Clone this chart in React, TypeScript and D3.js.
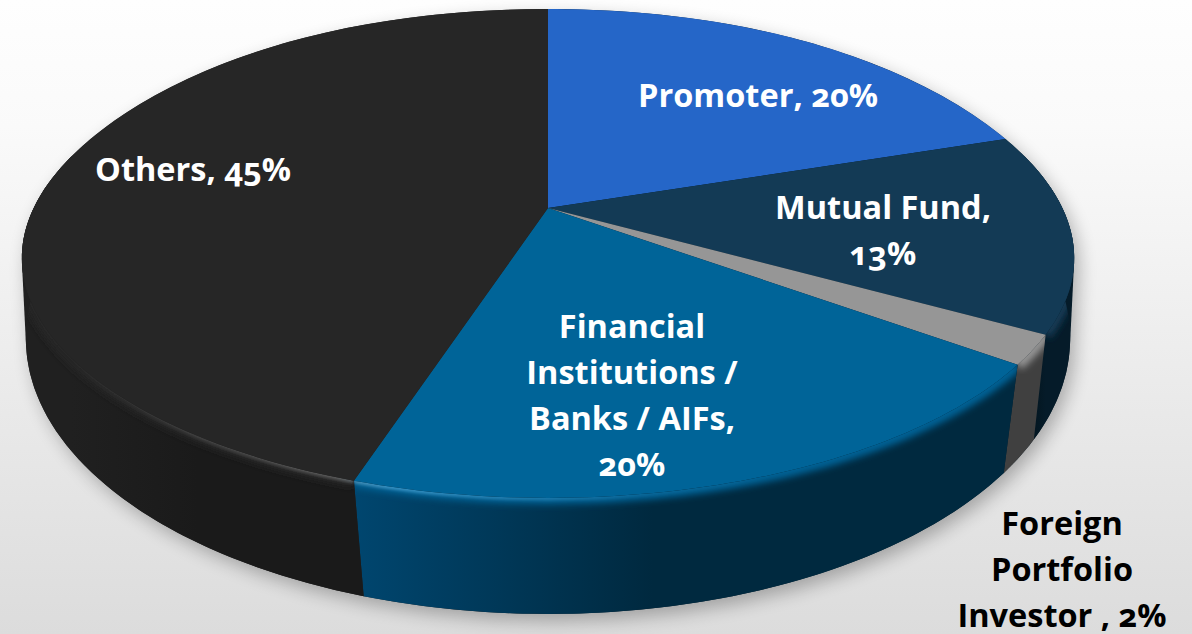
import React from "react";
import * as d3 from "d3";

const categories = ["Promoter", "Mutual Fund", "Foreign Portfolio Investor", "Financial Institutions / Banks / AIFs", "Others"];
const shareValues = [19.5, 13.5, 2, 20, 45];
const labelLines = [
  ["Promoter, 20%"],
  ["Mutual Fund,", "13%"],
  ["Foreign", "Portfolio", "Investor , 2%"],
  ["Financial", "Institutions /", "Banks / AIFs,", "20%"],
  ["Others, 45%"],
];
const topColors = ["#2566c8", "#133a55", "#969696", "#006498", "#262626"];
const wallStart = ["#051d2d", "#051b29", "#404040", "#00466f", "#202020"];
const wallEnd = ["#051d2d", "#041722", "#404040", "#00293f", "#1a1a1a"];
const textColors = ["#fff", "#fff", "#000", "#fff", "#fff"];
const labelAnchors: [number, number][] = [
  [758, 107],
  [883, 219],
  [1062, 535],
  [632, 338],
  [193, 181],
];

const W = 1192, H = 634, CX = 548;
const TOP = { y0: 208, S: 236, R: 517, k: 0.186, egg: 6 };
const BOT = { y0: 300, S: 270, R: 517, k: 0.14, egg: 0 };
const VIS0 = (75 * Math.PI) / 180, VIS1 = (285 * Math.PI) / 180;

type Plane = typeof TOP;
const proj = (p: Plane, a: number): [number, number] => {
  const X = Math.sin(a), Z = Math.cos(a), w = 1 + p.k * Z;
  return [CX + (p.R * X) / w, p.y0 - (p.S * Z) / w + p.egg * X * X * X * X * (1 + Z)];
};
const samples = (a0: number, a1: number) => d3.range(0, 61).map((i) => a0 + ((a1 - a0) * i) / 60);
const line = d3.line<[number, number]>().x((d) => d[0]).y((d) => d[1]);

const arcs = d3.pie<number>().sort(null).value((d) => d)(shareValues);

const hull = (a0: number, a1: number) => {
  const pts = samples(a0, a1).flatMap((a) => [proj(TOP, a), proj(BOT, a)]);
  return line(d3.polygonHull(pts) as [number, number][]) + "Z";
};

export default function App() {
  const all = samples(0, Math.PI * 2);
  return (
    <svg width={W} height={H} viewBox={`0 0 ${W} ${H}`}
      style={{ position: "fixed", left: 0, top: 0, display: "block" }}>
      <defs>
        <linearGradient id="bg" x1="0" y1="0" x2="0" y2="1">
          <stop offset="0" stopColor="#fefefe" />
          <stop offset="0.2" stopColor="#fafafa" />
          <stop offset="1" stopColor="#dcdcdc" />
        </linearGradient>
        <filter id="sh" x="-10%" y="-10%" width="120%" height="120%"><feGaussianBlur stdDeviation="9" /></filter>
        <filter id="rim" x="-10%" y="-30%" width="120%" height="160%"><feGaussianBlur stdDeviation="3.5" /></filter>
        <filter id="hi" x="-10%" y="-30%" width="120%" height="160%"><feGaussianBlur stdDeviation="1.4" /></filter>
        <linearGradient id="hl" gradientUnits="userSpaceOnUse" x1="0" y1="0" x2={W} y2="0">
          <stop offset="0.06" stopColor="#fff" stopOpacity="0" />
          <stop offset="0.28" stopColor="#fff" stopOpacity="0.24" />
          <stop offset="0.33" stopColor="#7fd0ff" stopOpacity="0.42" />
          <stop offset="0.55" stopColor="#7fd0ff" stopOpacity="0.06" />
          <stop offset="0.65" stopColor="#fff" stopOpacity="0" />
        </linearGradient>
        {arcs.map((d, i) => {
          const a0 = Math.max(d.startAngle, VIS0), a1 = Math.min(d.endAngle, VIS1);
          if (a1 <= a0) return null;
          const wall = [...samples(a0, a1).map((a) => proj(TOP, a)), ...samples(a1, a0).map((a) => proj(BOT, a))];
          return (
            <React.Fragment key={i}>
              <clipPath id={`wc${i}`}><path d={line(wall) + "Z"} /></clipPath>
              <linearGradient id={`wg${i}`} gradientUnits="userSpaceOnUse"
                x1={proj(TOP, a1)[0]} y1="0" x2={proj(TOP, a0)[0]} y2="0">
                <stop offset="0" stopColor={wallStart[i]} />
                <stop offset="0.45" stopColor={wallEnd[i]} />
                <stop offset="1" stopColor={wallEnd[i]} />
              </linearGradient>
            </React.Fragment>
          );
        })}
      </defs>
      <rect width={W} height={H} fill="url(#bg)" />
      <path d={hull(0, Math.PI * 2)} fill="#000" opacity={0.28} filter="url(#sh)" transform="translate(5,7)" />
      <path d={hull(Math.PI, Math.PI * 2)} fill={wallStart[4]} />
      <path d={hull(0, Math.PI)} fill={wallStart[1]} />
      {arcs.map((d, i) => {
        const a0 = Math.max(d.startAngle, VIS0), a1 = Math.min(d.endAngle, VIS1);
        if (a1 <= a0) return null;
        const wall = [...samples(a0, a1).map((a) => proj(TOP, a)), ...samples(a1, a0).map((a) => proj(BOT, a))];
        const edge = line(samples(a0, a1).map((a) => proj(TOP, a))) as string;
        return (
          <g key={i}>
            <path d={line(wall) + "Z"} fill={`url(#wg${i})`} />
            <g clipPath={`url(#wc${i})`}>
              <path d={edge} fill="none" stroke={topColors[i]} strokeWidth={12} filter="url(#rim)" />
              <path d={edge} fill="none" stroke="url(#hl)" strokeWidth={5} filter="url(#hi)" />
            </g>
          </g>
        );
      })}
      {arcs.map((d, i) => {
        const pts: [number, number][] = [[CX, TOP.y0], ...samples(d.startAngle, d.endAngle).map((a) => proj(TOP, a))];
        return <path key={i} data-name={categories[i]} d={line(pts) + "Z"} fill={topColors[i]} />;
      })}
      <g fontFamily="'Open Sans', Lato, sans-serif" fontWeight={700} fontSize={32.5}
        textAnchor="middle" style={{ fontVariantNumeric: "oldstyle-nums" }}>
        {labelLines.map((lines, i) => (
          <text key={i} fill={textColors[i]}>
            {lines.map((t, j) => (
              <tspan key={j} x={labelAnchors[i][0]} y={labelAnchors[i][1] + j * 46}>{t}</tspan>
            ))}
          </text>
        ))}
      </g>
    </svg>
  );
}
